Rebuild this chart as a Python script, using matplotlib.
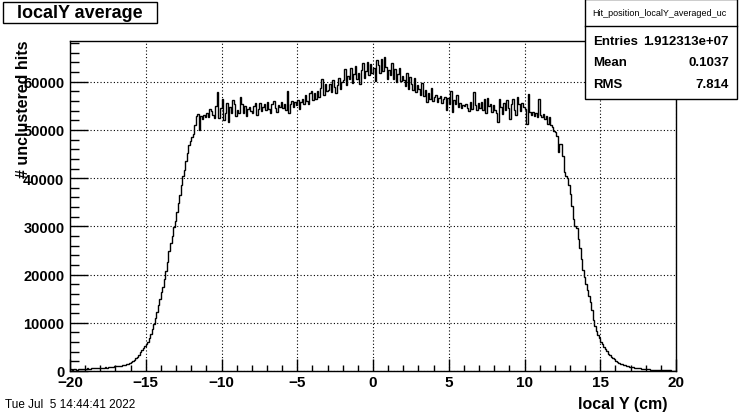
import numpy as np
import matplotlib.pyplot as plt
from matplotlib.patches import Rectangle
from matplotlib.lines import Line2D
from matplotlib.ticker import MultipleLocator

# histogram: 400 bins from -20 to 20 cm
x_lo, x_hi, n_bins = -20, 20, 400
counts = [
    350, 300, 420, 380, 300, 450, 400, 380, 500, 420,
    450, 520, 480, 500, 560, 520, 600, 580, 650, 620,
    680, 650, 720, 780, 700, 820, 850, 800, 900, 950,
    1000, 1050, 1100, 1050, 1250, 1300, 1250, 1450, 1550, 1700,
    1850, 2000, 2300, 2600, 3000, 3400, 4000, 4300, 4800, 5100,
    5500, 6100, 6900, 7700, 8700, 9800, 11000, 12300, 13600, 15000,
    16300, 17500, 19000, 20800, 22600, 24800, 26500, 28000, 29800, 31200,
    33000, 34800, 36600, 38600, 40500, 41800, 43600, 45200, 46900, 47800,
    48500, 49200, 51000, 52900, 53300, 50000, 52800, 52300, 53100, 52600,
    53600, 52700, 54300, 54000, 53200, 52500, 55000, 57800, 52400, 54600,
    56500, 52000, 53500, 55700, 51600, 54800, 53500, 56200, 55400, 53000,
    54200, 53500, 56800, 55400, 53600, 55000, 52900, 54300, 54800, 53900,
    53600, 54900, 55600, 53200, 54400, 55700, 53900, 54800, 55300, 54100,
    55800, 54300, 53600, 55400, 56100, 54600, 53800, 55200, 54700, 55900,
    54600, 55400, 54200, 58100, 53500, 55300, 56000, 54700, 55900, 55200,
    56200, 54300, 55800, 56500, 55400, 57300, 56000, 55300, 57600, 58000,
    56200, 57600, 56400, 58100, 56800, 58800, 60500, 57200, 59600, 58000,
    58300, 59600, 57800, 60400, 58900, 57600, 59300, 60800, 58600, 59900,
    60300, 62600, 59400, 61200, 60600, 62900, 59800, 61700, 63300, 60500,
    61800, 59600, 62400, 63900, 60800, 62200, 64200, 61500, 63600, 61900,
    62800, 60200, 64500, 63400, 61800, 64700, 62300, 65200, 63100, 60600,
    62500, 61400, 63800, 60600, 62700, 59900, 61600, 62900, 60200, 61300,
    60400, 59200, 61800, 58400, 60900, 59600, 58200, 60700, 57900, 59300,
    58600, 57300, 59800, 57000, 58200, 55900, 57600, 56400, 58700, 56100,
    56800, 57300, 55900, 56600, 57000, 55600, 56400, 56900, 54200, 56700,
    55400, 58100, 53800, 56200, 55300, 57200, 54800, 55600, 54500, 55100,
    54900, 55300, 54600, 53900, 55800, 54400, 57800, 55100, 54200, 55600,
    54600, 55900, 54100, 56400, 53500, 56600, 54900, 55300, 53800, 55100,
    54200, 53500, 51600, 56500, 54800, 53300, 55700, 54100, 56200, 54600,
    52300, 55300, 56500, 54100, 53200, 56800, 55400, 53900, 55600, 54800,
    54300, 51200, 57400, 53800, 53200, 53700, 52900, 53500, 52600, 56400,
    53100, 52700, 53400, 52200, 52900, 51300, 52600, 51000, 50600, 49700,
    49600, 48800, 45400, 47100, 47000, 44600, 41200, 40500, 40000, 38600,
    36800, 34200, 31500, 30000, 29700, 27400, 25600, 23300, 21000, 19600,
    18100, 16800, 15600, 14300, 12700, 10600, 9300, 8400, 7500, 6900,
    6100, 5500, 4900, 4500, 4100, 3600, 3300, 3000, 2700, 2400,
    2100, 1900, 1700, 1550, 1400, 1300, 1150, 1100, 1000, 900,
    850, 800, 700, 650, 600, 560, 520, 480, 450, 420,
    380, 350, 330, 300, 280, 300, 250, 230, 220, 200,
    180, 200, 150, 160, 130, 120, 110, 100, 90, 80,
]

title = "localY average"
hist_name = "Hit_position_localY_averaged_uc"
stat_names = ["Entries", "Mean", "RMS"]
stat_values = ["1.912313e+07", "0.1037", "7.814"]
x_title = "local Y (cm)"
y_title = "# unclustered hits"
date_text = "Tue Jul  5 14:44:41 2022"

plt.rcParams['font.family'] = ['Liberation Sans', 'DejaVu Sans']

W, H = 741, 414
fig = plt.figure(figsize=(W / 100, H / 100), dpi=100)


def fx(px):
    return px / W


def fy(py):
    return 1 - py / H


ax = fig.add_axes([fx(70), fy(372), fx(606), 330 / H])

edges = np.linspace(x_lo, x_hi, n_bins + 1)
ax.stairs(counts, edges, color='black', lw=1.0, baseline=0)

ax.set_xlim(x_lo, x_hi)
ax.set_ylim(0, 1.05 * max(counts))

ax.xaxis.set_major_locator(MultipleLocator(5))
ax.xaxis.set_minor_locator(MultipleLocator(1))
ax.yaxis.set_major_locator(MultipleLocator(10000))
ax.yaxis.set_minor_locator(MultipleLocator(2000))
ax.tick_params(axis='x', which='major', direction='in', length=9, width=1, labelsize=11, pad=3)
ax.tick_params(axis='x', which='minor', direction='in', length=4.5, width=1)
ax.tick_params(axis='y', which='major', direction='in', length=13, width=1, labelsize=10.5, pad=4)
ax.tick_params(axis='y', which='minor', direction='in', length=6.5, width=1)
for lab in ax.get_xticklabels() + ax.get_yticklabels():
    lab.set_fontweight('bold')
ax.xaxis.set_major_formatter(plt.FuncFormatter(lambda v, p: f"{v:g}".replace('-', '\u2212')))
ax.yaxis.set_major_formatter(plt.FuncFormatter(lambda v, p: f"{v:.0f}"))

ax.grid(True, which='major', color='black', linestyle=(0, (1, 2)), lw=0.8)
for s in ax.spines.values():
    s.set_linewidth(1)

# title box
fig.patches.append(Rectangle((fx(3), fy(24)), fx(154), 21 / H, transform=fig.transFigure,
                             facecolor='white', edgecolor='black', lw=1))
fig.text(fx(80), fy(13.5), title, ha='center', va='center', fontsize=13, fontweight='bold')

# stats box
fig.patches.append(Rectangle((fx(585), fy(100)), fx(152), 100 / H, transform=fig.transFigure,
                             facecolor='white', edgecolor='black', lw=1, zorder=5))
fig.lines.append(Line2D([fx(585), fx(737)], [fy(26.7), fy(26.7)], transform=fig.transFigure,
                        color='black', lw=1, zorder=6))
fig.text(fx(659), fy(14), hist_name, ha='center', va='center', fontsize=6.5, zorder=7)
for i, (nm, val) in enumerate(zip(stat_names, stat_values)):
    yy = fy(41.7 + 21.7 * i)
    fig.text(fx(593), yy, nm, ha='left', va='center', fontsize=9.5, fontweight='bold', zorder=7)
    fig.text(fx(729), yy, val, ha='right', va='center', fontsize=9.5, fontweight='bold', zorder=7)

# axis titles
fig.text(fx(24), fy(41), y_title, rotation=90, ha='center', va='top', fontsize=11.5, fontweight='bold')
fig.text(fx(668), fy(405), x_title, ha='right', va='center', fontsize=11.5, fontweight='bold')
fig.text(fx(5), fy(405), date_text, ha='left', va='center', fontsize=8.5)

fig.savefig('out.png', dpi=100)
